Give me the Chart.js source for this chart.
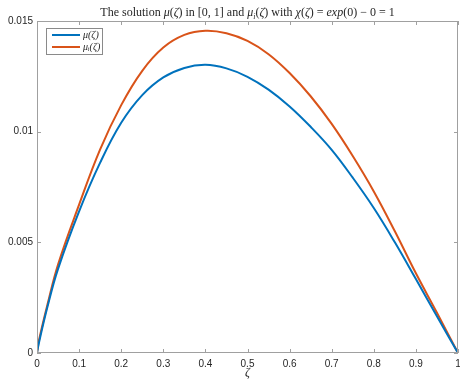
<!DOCTYPE html>
<html>
<head>
<meta charset="utf-8">
<script src="https://cdn.jsdelivr.net/npm/chart.js@4"></script>
<style>
  html, body { margin: 0; padding: 0; background: #fff; }
  #wrap { width: 460px; height: 385px; }
</style>
</head>
<body>
<div id="wrap"><canvas id="c"></canvas></div>
<script>
// values
const zeta = [0, 0.005, 0.025, 0.05, 0.1, 0.15, 0.2, 0.25, 0.3, 0.35, 0.4, 0.45, 0.5, 0.55, 0.6, 0.65, 0.7, 0.75, 0.8, 0.85, 0.9, 0.95, 1];
const mu   = [0, 0.0005, 0.0021, 0.0038, 0.0064, 0.0086, 0.0104, 0.01165, 0.01245, 0.01288, 0.01302, 0.01286, 0.01248, 0.0119, 0.01114, 0.01022, 0.00918, 0.00792, 0.00655, 0.005, 0.00334, 0.00166, 0];
const mui  = [0, 0.0006, 0.0022, 0.0040, 0.0067, 0.0092, 0.0112, 0.01275, 0.0138, 0.01437, 0.01456, 0.01445, 0.0141, 0.0135, 0.01265, 0.0116, 0.01035, 0.0089, 0.0073, 0.0055, 0.0036, 0.00182, 0];
const xTicks = [0, 0.1, 0.2, 0.3, 0.4, 0.5, 0.6, 0.7, 0.8, 0.9, 1];
const yTicks = [0, 0.005, 0.01, 0.015];
const seriesNames = ['\u03bc(\u03b6)', '\u03bc\u1d62(\u03b6)'];
// title pieces: [text, italic, subscript]
const titleParts = [
  ['The solution ', 0], ['\u03bc', 1], ['(', 0], ['\u03b6', 1], [') in [0, 1] and ', 0],
  ['\u03bc', 1], ['i', 1, 1], ['(', 0], ['\u03b6', 1], [') with ', 0],
  ['\u03c7', 1], ['(', 0], ['\u03b6', 1], [') = ', 0], ['exp', 1], ['(0) \u2212 0 = 1', 0]
];

const AX = '#a0a0a0', TXT = '#262626';
const SERIF = '"Liberation Serif", "DejaVu Serif", serif';
const SANS = '"Liberation Sans", Arial, sans-serif';

function partFont(p, size) {
  return (p[1] ? 'italic ' : '') + (p[2] ? Math.round(size * 0.7) : size) + 'px ' + SERIF;
}

const fmt = v => String(Number(v.toFixed(4)));

// box, inward ticks, x tick labels, title and legend drawn MATLAB style
const matlabDeco = {
  id: 'matlabDeco',
  afterDraw(chart) {
    const ctx = chart.ctx, a = chart.chartArea;
    const xs = chart.scales.x, ys = chart.scales.y;
    ctx.save();
    ctx.strokeStyle = AX; ctx.lineWidth = 1;
    ctx.strokeRect(a.left + 0.5, a.top + 0.5, a.right - a.left - 1, a.bottom - a.top - 1);
    ctx.beginPath();
    xTicks.forEach(v => {
      const px = Math.round(xs.getPixelForValue(v)) + 0.5;
      ctx.moveTo(px, a.bottom); ctx.lineTo(px, a.bottom - 4);
      ctx.moveTo(px, a.top); ctx.lineTo(px, a.top + 4);
    });
    yTicks.forEach(v => {
      const py = Math.round(ys.getPixelForValue(v)) + 0.5;
      ctx.moveTo(a.left, py); ctx.lineTo(a.left + 4, py);
      ctx.moveTo(a.right, py); ctx.lineTo(a.right - 4, py);
    });
    ctx.stroke();

    // x tick labels
    ctx.fillStyle = TXT;
    ctx.font = '10px ' + SANS;
    ctx.textAlign = 'center'; ctx.textBaseline = 'middle';
    xTicks.forEach(v => ctx.fillText(fmt(v), xs.getPixelForValue(v), a.bottom + 11));

    // title
    const size = 12;
    ctx.textBaseline = 'alphabetic'; ctx.textAlign = 'left';
    let total = 0;
    titleParts.forEach(p => { ctx.font = partFont(p, size); total += ctx.measureText(p[0]).width; });
    let tx = (a.left + a.right) / 2 - total / 2;
    titleParts.forEach(p => {
      ctx.font = partFont(p, size);
      ctx.fillText(p[0], tx, p[2] ? 19 : 16);
      tx += ctx.measureText(p[0]).width;
    });

    // legend
    const lx = 46, ly = 28, lw = 56, lh = 26;
    ctx.fillStyle = '#fff';
    ctx.fillRect(lx, ly, lw, lh);
    ctx.strokeStyle = '#8a8a8a'; ctx.lineWidth = 1;
    ctx.strokeRect(lx + 0.5, ly + 0.5, lw, lh);
    ctx.textBaseline = 'middle';
    chart.data.datasets.forEach((ds, i) => {
      const y = ly + 7 + i * 12;
      ctx.strokeStyle = ds.borderColor; ctx.lineWidth = 2;
      ctx.beginPath(); ctx.moveTo(lx + 6, y); ctx.lineTo(lx + 34, y); ctx.stroke();
      ctx.fillStyle = TXT;
      ctx.font = 'italic 10px ' + SERIF;
      ctx.fillText(ds.label, lx + 37, y);
    });
    ctx.restore();
  }
};

new Chart(document.getElementById('c'), {
  type: 'line',
  data: {
    datasets: [
      { label: seriesNames[0], data: zeta.map((z, i) => ({ x: z, y: mu[i] })),
        borderColor: '#0072BD', borderWidth: 2, pointRadius: 0, tension: 0.4, fill: false },
      { label: seriesNames[1], data: zeta.map((z, i) => ({ x: z, y: mui[i] })),
        borderColor: '#D95319', borderWidth: 2, pointRadius: 0, tension: 0.4, fill: false }
    ]
  },
  options: {
    responsive: true,
    maintainAspectRatio: false,
    animation: false,
    layout: { padding: { top: 21, right: 2, left: 0, bottom: 0 } },
    plugins: { legend: { display: false }, title: { display: false }, tooltip: { enabled: false } },
    scales: {
      x: {
        type: 'linear', min: 0, max: 1,
        afterBuildTicks: s => { s.ticks = xTicks.map(v => ({ value: v })); },
        afterFit: s => { s.height = 32; s.paddingRight = 0; s.paddingLeft = 0; },
        grid: { display: false, tickLength: 0 }, border: { display: false },
        ticks: { display: false },
        title: { display: true, text: '\u03b6', color: TXT, font: { family: SERIF, size: 12, style: 'italic', lineHeight: 1 }, padding: { top: 0, bottom: 6 } }
      },
      y: {
        min: 0, max: 0.015,
        afterBuildTicks: s => { s.ticks = yTicks.map(v => ({ value: v })); },
        afterFit: s => { s.width = 37; },
        grid: { display: false, tickLength: 0 }, border: { display: false },
        ticks: { color: TXT, font: { family: SANS, size: 10 }, padding: 4, callback: fmt }
      }
    }
  },
  plugins: [matlabDeco]
});
</script>
</body>
</html>
